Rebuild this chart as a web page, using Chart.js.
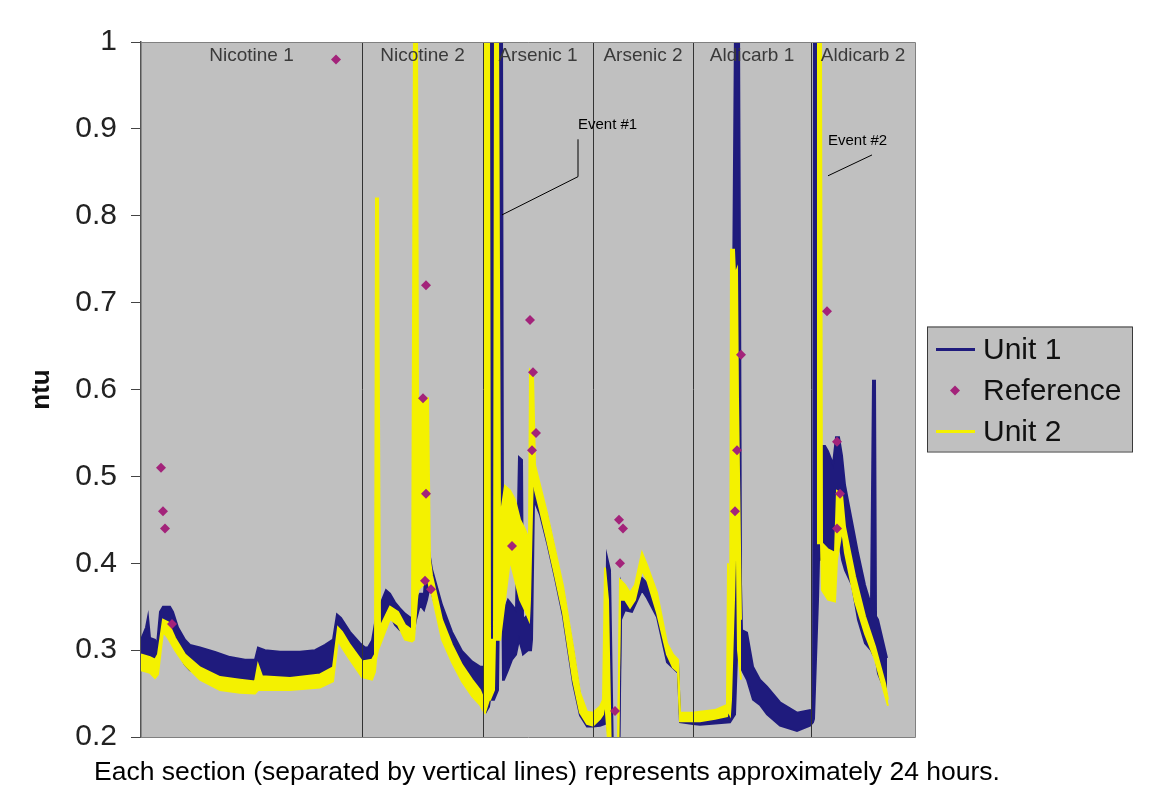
<!DOCTYPE html>
<html>
<meta charset="UTF-8">
<head>
    <title>ntu</title>
    <script src="https://cdn.jsdelivr.net/npm/chart.js"></script>
    <style>
        body { margin: 0; background: #ffffff; }
    </style>
</head>
<body>
<canvas id="ntuChart" width="1151" height="796"></canvas>

<script>
    // x = sample number along the run, y = ntu
    // each unit is kept as an upper and lower edge of its noisy trace
    var u1T = [0, 5, 7, 9, 14, 16, 19, 22, 29, 32,
        37, 44, 49, 59, 74, 89, 104, 114, 117, 124,
        139, 159, 174, 184, 192, 196, 200, 209, 219, 224,
        227, 231, 234, 239, 245, 249, 254, 259, 264, 271,
        273, 275, 279, 283, 286, 288, 291, 301, 311, 321,
        331, 339, 342, 345, 348, 349, 352, 353, 357, 358,
        361, 362, 363, 367, 371, 375, 378, 381, 382, 387,
        390, 391, 393, 399, 406, 414, 422, 432, 439, 446,
        452, 459, 464, 466, 469, 472, 478, 480, 484, 491,
        501, 506, 516, 526, 537, 539, 552, 559, 589, 594,
        598, 599, 600, 601, 606, 612, 619, 626, 639, 656,
        669, 672, 673, 677, 678, 680, 684, 687, 692, 695,
        698, 701, 704, 711, 717, 724, 730, 732, 734, 735,
        737, 746];
    var u1Hi = [0.312, 0.326, 0.338, 0.314, 0.312, 0.306, 0.344, 0.350, 0.350, 0.344,
        0.326, 0.312, 0.306, 0.303, 0.298, 0.292, 0.289, 0.289, 0.303, 0.300,
        0.298, 0.298, 0.300, 0.306, 0.312, 0.341, 0.337, 0.321, 0.308, 0.303,
        0.303, 0.311, 0.331, 0.352, 0.369, 0.365, 0.355, 0.348, 0.342, 0.336,
        0.389, 0.358, 0.365, 0.365, 0.414, 0.414, 0.393, 0.352, 0.321, 0.299,
        0.287, 0.281, 0.281, 0.277, 0.266, 1.02, 1.02, 0.312, 0.312, 1.02,
        1.02, 0.412, 0.346, 0.358, 0.352, 0.346, 0.522, 0.519, 0.335, 0.341,
        0.323, 0.511, 0.508, 0.484, 0.455, 0.412, 0.369, 0.300, 0.247, 0.226,
        0.226, 0.229, 0.234, 0.407, 0.392, 0.174, 0.174, 0.377, 0.361, 0.358,
        0.383, 0.377, 0.358, 0.297, 0.286, 0.224, 0.224, 0.223, 0.228, 1.02,
        1.02, 0.738, 0.377, 0.323, 0.320, 0.281, 0.266, 0.258, 0.240, 0.228,
        0.231, 0.225, 1.02, 1.02, 0.673, 0.535, 0.535, 0.529, 0.514, 0.545,
        0.545, 0.524, 0.490, 0.448, 0.412, 0.375, 0.352, 0.610, 0.610, 0.339,
        0.335, 0.291];
    var u1Lo = [0.287, 0.289, 0.289, 0.287, 0.283, 0.280, 0.312, 0.332, 0.329, 0.312,
        0.298, 0.283, 0.277, 0.272, 0.266, 0.262, 0.261, 0.261, 0.266, 0.268,
        0.266, 0.264, 0.266, 0.268, 0.277, 0.321, 0.317, 0.298, 0.283, 0.275,
        0.272, 0.277, 0.300, 0.323, 0.346, 0.341, 0.329, 0.323, 0.321, 0.317,
        0.323, 0.335, 0.352, 0.346, 0.358, 0.369, 0.365, 0.323, 0.295, 0.270,
        0.258, 0.245, 0.233, 0.229, 0.235, 0.243, 0.243, 0.243, 0.254, 0.358,
        0.412, 0.266, 0.266, 0.277, 0.289, 0.295, 0.312, 0.300, 0.295, 0.300,
        0.300, 0.312, 0.473, 0.456, 0.424, 0.383, 0.339, 0.262, 0.225, 0.212,
        0.212, 0.213, 0.215, 0.221, 0.174, 0.163, 0.163, 0.335, 0.346, 0.344,
        0.369, 0.360, 0.338, 0.286, 0.274, 0.217, 0.215, 0.214, 0.217, 0.226,
        0.358, 0.335, 0.289, 0.277, 0.266, 0.243, 0.237, 0.226, 0.213, 0.207,
        0.213, 0.217, 0.221, 0.358, 0.404, 0.404, 0.423, 0.404, 0.381, 0.404,
        0.427, 0.404, 0.392, 0.375, 0.335, 0.308, 0.300, 0.295, 0.295, 0.289,
        0.273, 0.248];

    var u2T = [0, 9, 14, 17, 22, 27, 34, 44, 59, 79,
        99, 114, 117, 121, 149, 179, 192, 197, 201, 209,
        221, 231, 234, 235, 237, 239, 249, 257, 264, 271,
        273, 276, 277, 287, 289, 291, 301, 311, 321, 331,
        339, 343, 344, 348, 349, 353, 354, 357, 359, 364,
        369, 374, 379, 384, 388, 389, 392, 394, 399, 406,
        414, 422, 432, 439, 446, 452, 459, 462, 464, 467,
        470, 477, 479, 484, 489, 494, 501, 506, 516, 526,
        532, 537, 539, 552, 559, 574, 586, 587, 589, 590,
        593, 594, 596, 597, 600, 640, 676, 680, 681, 687,
        694, 696, 701, 704, 714, 724, 734, 744, 747];
    var u2Hi = [0.295, 0.292, 0.289, 0.295, 0.335, 0.332, 0.314, 0.295, 0.280, 0.269,
        0.266, 0.264, 0.283, 0.270, 0.268, 0.272, 0.280, 0.326, 0.321, 0.306,
        0.287, 0.289, 0.295, 0.820, 0.820, 0.326, 0.350, 0.344, 0.329, 0.323,
        1.02, 1.02, 0.590, 0.590, 0.404, 0.386, 0.335, 0.306, 0.283, 0.266,
        0.254, 0.243, 1.02, 1.02, 0.312, 0.312, 1.02, 1.02, 0.450, 0.489,
        0.484, 0.473, 0.450, 0.439, 0.427, 0.622, 0.617, 0.513, 0.490, 0.458,
        0.416, 0.374, 0.304, 0.251, 0.229, 0.228, 0.235, 0.243, 0.395, 0.358,
        0.174, 0.174, 0.381, 0.375, 0.366, 0.375, 0.412, 0.398, 0.366, 0.308,
        0.295, 0.289, 0.228, 0.228, 0.229, 0.231, 0.237, 0.400, 0.243, 0.761,
        0.761, 0.732, 0.738, 0.588, 0.335, null, 1.02, 1.02, 0.423, 0.416,
        0.412, 0.483, 0.479, 0.442, 0.385, 0.339, 0.304, 0.262, 0.243];
    var u2Lo = [0.277, 0.274, 0.268, 0.272, 0.321, 0.314, 0.300, 0.283, 0.266, 0.254,
        0.251, 0.250, 0.254, 0.254, 0.254, 0.257, 0.264, 0.312, 0.303, 0.289,
        0.269, 0.266, 0.275, 0.289, 0.300, 0.306, 0.336, 0.329, 0.312, 0.310,
        0.312, 0.358, 0.369, 0.381, 0.369, 0.364, 0.312, 0.286, 0.264, 0.247,
        0.237, 0.229, 0.228, 0.243, 0.243, 0.254, 0.312, 0.312, 0.312, 0.358,
        0.404, 0.381, 0.358, 0.346, 0.335, 0.358, 0.508, 0.484, 0.461, 0.427,
        0.386, 0.343, 0.266, 0.228, 0.215, 0.213, 0.221, 0.226, 0.243, 0.197,
        0.163, 0.163, 0.358, 0.358, 0.349, 0.358, 0.392, 0.381, 0.343, 0.295,
        0.280, 0.275, 0.218, 0.218, 0.218, 0.221, 0.224, 0.231, 0.226, 0.243,
        0.358, 0.404, 0.404, 0.300, 0.266, null, 0.423, 0.423, 0.369, 0.358,
        0.356, 0.404, 0.439, 0.412, 0.356, 0.319, 0.289, 0.248, 0.236];

    var refT = [20, 22, 24, 31, 195, 285, 282, 285, 284, 290, 371, 389, 392,
        395, 391, 478, 482, 479, 474, 600, 596, 594, 686, 696, 699, 696];
    var refV = [0.51, 0.46, 0.44, 0.33, 0.98, 0.72, 0.59, 0.48, 0.38, 0.37, 0.42, 0.68, 0.62,
        0.55, 0.53, 0.45, 0.44, 0.40, 0.23, 0.64, 0.53, 0.46, 0.69, 0.54, 0.48, 0.44];

    // sections of roughly 24 hours each
    var sectionEdges = [0, 221, 342, 452, 552, 670, 774];
    var sectionNames = ['Nicotine 1', 'Nicotine 2', 'Arsenic 1', 'Arsenic 2', 'Aldicarb 1', 'Aldicarb 2'];

    var yMin = 0.2, yMax = 1, yStep = 0.1;

    var navy = '#1f1b7d';
    var yellow = '#f4f100';
    var plum = '#a3237a';
    var fontFam = '"Liberation Sans", Arial, sans-serif';

    function pts(t, v) {
        return t.map(function (x, i) { return { x: x, y: v[i] }; });
    }

    // Event #1 / #2 labels and their leader lines (x = sample, y = ntu)
    var events = [
        { text: 'Event #1', at: [437, 0.905], path: [[437, 0.888], [437, 0.845], [361, 0.801]] },
        { text: 'Event #2', at: [687, 0.886], path: [[731, 0.870], [687, 0.846]] }
    ];

    var drawExtras = {
        id: 'drawExtras',
        beforeDraw: function (chart) {
            var a = chart.chartArea, ctx = chart.ctx;
            ctx.save();
            ctx.fillStyle = '#ffffff';
            ctx.fillRect(0, 0, chart.width, chart.height);
            ctx.fillStyle = '#c0c0c0';
            ctx.fillRect(a.left, a.top, a.right - a.left, a.bottom - a.top);
            ctx.restore();
        },
        afterDatasetsDraw: function (chart) {
            var a = chart.chartArea, ctx = chart.ctx;
            var xs = chart.scales.x, ys = chart.scales.y;
            ctx.save();
            // section separators
            ctx.strokeStyle = '#333333';
            ctx.lineWidth = 1;
            for (var i = 1; i < sectionEdges.length - 1; i++) {
                var px = Math.round(xs.getPixelForValue(sectionEdges[i])) + 0.5;
                ctx.beginPath();
                ctx.moveTo(px, a.top);
                ctx.lineTo(px, a.bottom);
                ctx.stroke();
            }
            // section names
            ctx.fillStyle = '#3a3a3a';
            ctx.font = '19px ' + fontFam;
            ctx.textAlign = 'center';
            ctx.textBaseline = 'middle';
            for (var j = 0; j < sectionNames.length; j++) {
                var cx = xs.getPixelForValue((sectionEdges[j] + sectionEdges[j + 1]) / 2);
                ctx.fillText(sectionNames[j], cx, a.top + 14);
            }
            // event notes
            ctx.fillStyle = '#000000';
            ctx.strokeStyle = '#000000';
            ctx.font = '15px ' + fontFam;
            ctx.textAlign = 'left';
            events.forEach(function (ev) {
                ctx.fillText(ev.text, xs.getPixelForValue(ev.at[0]), ys.getPixelForValue(ev.at[1]));
                ctx.beginPath();
                ev.path.forEach(function (p, k) {
                    var x = xs.getPixelForValue(p[0]), y = ys.getPixelForValue(p[1]);
                    if (k === 0) ctx.moveTo(x, y); else ctx.lineTo(x, y);
                });
                ctx.stroke();
            });
            ctx.restore();
        },
        afterDraw: function (chart) {
            var a = chart.chartArea, ctx = chart.ctx;
            ctx.save();
            // plot frame
            ctx.strokeStyle = '#808080';
            ctx.lineWidth = 1;
            ctx.beginPath();
            ctx.moveTo(a.left, a.top + 0.5);
            ctx.lineTo(a.right + 0.5, a.top + 0.5);
            ctx.lineTo(a.right + 0.5, a.bottom + 0.5);
            ctx.lineTo(a.left, a.bottom + 0.5);
            ctx.stroke();

            // legend
            var lx = a.right + 12, ly = (a.top + a.bottom) / 2 - 63;
            ctx.fillStyle = '#c0c0c0';
            ctx.fillRect(lx, ly, 205, 125);
            ctx.strokeStyle = '#3a3a3a';
            ctx.strokeRect(lx + 0.5, ly + 0.5, 205, 125);
            var items = [
                { label: 'Unit 1', kind: 'line', color: navy },
                { label: 'Reference', kind: 'diamond', color: plum },
                { label: 'Unit 2', kind: 'line', color: yellow }
            ];
            ctx.font = '30px ' + fontFam;
            ctx.textAlign = 'left';
            ctx.textBaseline = 'middle';
            items.forEach(function (it, k) {
                var cy = ly + 23 + k * 41;
                if (it.kind === 'line') {
                    ctx.strokeStyle = it.color;
                    ctx.lineWidth = 3;
                    ctx.beginPath();
                    ctx.moveTo(lx + 9, cy);
                    ctx.lineTo(lx + 48, cy);
                    ctx.stroke();
                } else {
                    ctx.fillStyle = it.color;
                    ctx.beginPath();
                    ctx.moveTo(lx + 28, cy - 5);
                    ctx.lineTo(lx + 33, cy);
                    ctx.lineTo(lx + 28, cy + 5);
                    ctx.lineTo(lx + 23, cy);
                    ctx.closePath();
                    ctx.fill();
                }
                ctx.fillStyle = '#111111';
                ctx.fillText(it.label, lx + 56, cy + 1);
            });

            // caption
            ctx.fillStyle = '#000000';
            ctx.font = '26.5px ' + fontFam;
            ctx.textAlign = 'center';
            ctx.textBaseline = 'alphabetic';
            ctx.fillText('Each section (separated by vertical lines) represents approximately 24 hours.', 547, 780);
            ctx.restore();
        }
    };

    var lineBase = { pointRadius: 0, borderWidth: 2, tension: 0, spanGaps: false };

    var chart = new Chart(document.getElementById('ntuChart').getContext('2d'), {
        type: 'line',
        data: {
            datasets: [
                Object.assign({ label: 'Unit 1', data: pts(u1T, u1Hi), borderColor: navy, fill: false, order: 2 }, lineBase),
                Object.assign({ label: 'Unit 1 low', data: pts(u1T, u1Lo), borderColor: navy, backgroundColor: navy, fill: '-1', order: 2 }, lineBase),
                Object.assign({ label: 'Unit 2', data: pts(u2T, u2Hi), borderColor: yellow, fill: false, order: 1 }, lineBase),
                Object.assign({ label: 'Unit 2 low', data: pts(u2T, u2Lo), borderColor: yellow, backgroundColor: yellow, fill: '-1', order: 1 }, lineBase),
                {
                    label: 'Reference', data: pts(refT, refV), showLine: false,
                    pointStyle: 'rectRot', pointRadius: 5, borderWidth: 0,
                    backgroundColor: plum, borderColor: plum, order: 0
                }
            ]
        },
        options: {
            responsive: false,
            animation: false,
            events: [],
            layout: { padding: { left: 20, right: 236, top: 42, bottom: 59 } },
            plugins: { legend: { display: false }, tooltip: { enabled: false } },
            scales: {
                x: { type: 'linear', min: sectionEdges[0], max: sectionEdges[sectionEdges.length - 1], display: false },
                y: {
                    min: yMin, max: yMax,
                    ticks: {
                        stepSize: yStep, color: '#222222', padding: 14,
                        font: { family: fontFam, size: 30 },
                        callback: function (v) { return String(Math.round(v * 10) / 10); }
                    },
                    grid: { drawOnChartArea: false, tickLength: 10, color: '#444444' },
                    border: { color: '#555555', width: 1.5 },
                    title: {
                        display: true, text: 'ntu', color: '#111111',
                        font: { family: fontFam, size: 26, weight: 'bold' },
                        padding: { top: 6, bottom: 0 }
                    },
                    afterFit: function (s) { s.width = 121; }
                }
            }
        },
        plugins: [drawExtras]
    });
</script>
</body>
</html>
